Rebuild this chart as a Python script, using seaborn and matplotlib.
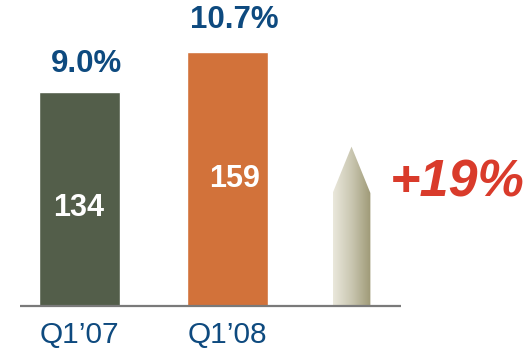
import numpy as np
import pandas as pd
import matplotlib
matplotlib.use("Agg")
import matplotlib.pyplot as plt
import seaborn as sns
from matplotlib.patches import Polygon
from matplotlib.colors import LinearSegmentedColormap

# ---- data ----
categories = ["Q1\u201907", "Q1\u201908"]
values = [134, 159]
margins = ["9.0%", "10.7%"]
bar_colors = ["#535E4A", "#D2723A"]
growth_label = "+19%"

df = pd.DataFrame({"period": categories, "value": values})

sns.set_theme(style="white")
plt.rcParams["font.family"] = ["Liberation Sans", "DejaVu Sans"]

fig = plt.figure(figsize=(5.31, 3.5), dpi=100)
ax = fig.add_axes([0, 0, 1, 1])

sns.barplot(data=df, x="period", y="value", hue="period", palette=bar_colors,
            width=0.548, legend=False, ax=ax, saturation=1)

ax.set_xlim(-0.538, 3.052)
ax.set_ylim(-27.5, 191.25)
ax.axis("off")

# baseline
ax.plot([-0.40, 2.17], [0, 0], color="#7A7A7A", lw=1.6, solid_capstyle="butt", zorder=3)

blue = "#0E4A7F"
pct_dx = [0.045, 0.045]
pct_dy = [17.5, 19.5]
val_dx = [-0.006, 0.045]
val_frac = [0.455, 0.50]
for i, (v, m) in enumerate(zip(values, margins)):
    ax.text(i + pct_dx[i], v + pct_dy[i], m, ha="center", va="center", fontsize=22.5,
            fontweight="bold", color=blue)
    ax.text(i + val_dx[i], v * val_frac[i], str(v), ha="center",
            va="center", fontsize=22, fontweight="bold", color="white")
    ax.text(i, -23.2, categories[i], ha="center", va="baseline", fontsize=21.5,
            color=blue)

# gradient arrow
x0, x1 = 1.711, 1.966
xm = (x0 + x1) / 2
y_sh, y_tip = 70.6, 99.6
verts = [(x0, 0), (x1, 0), (x1, y_sh), (xm, y_tip), (x0, y_sh)]
poly = Polygon(verts, closed=True, facecolor="none", edgecolor="none")
ax.add_patch(poly)
cmap = LinearSegmentedColormap.from_list("arr", ["#EAE8DC", "#C9C6B0", "#9E9976"])
grad = np.linspace(0, 1, 256).reshape(1, -1)
im = ax.imshow(grad, extent=[x0, x1, 0, y_tip], cmap=cmap, aspect="auto",
               zorder=2, interpolation="bicubic")
im.set_clip_path(poly)
ax.set_xlim(-0.538, 3.052)
ax.set_ylim(-27.5, 191.25)

ax.text(3.01, 77, growth_label, ha="right", va="center", fontsize=37.5,
        fontweight="bold", fontstyle="italic", color="#D93B2B")

fig.savefig("out.png", dpi=100)
